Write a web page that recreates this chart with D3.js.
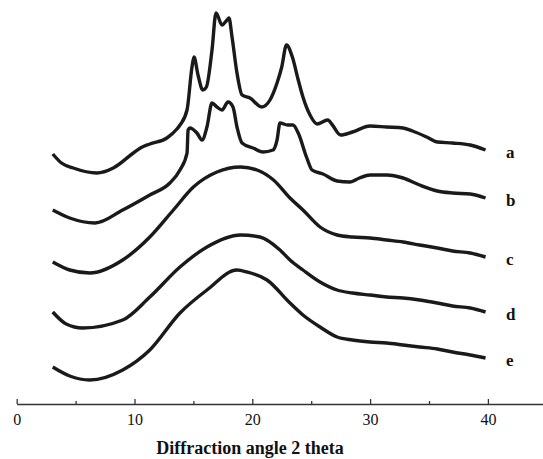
<!DOCTYPE html>
<html>
<head>
<meta charset="utf-8">
<script src="https://cdn.jsdelivr.net/npm/d3@7/dist/d3.min.js"></script>
<style>
    body { margin: 0; background: #fff; }
    .tick text { font-family: "Liberation Serif", "Times New Roman", serif; font-size: 16px; fill: #111; }
    .lbl { font-family: "Liberation Serif", "Times New Roman", serif; font-weight: bold; fill: #111; }
</style>
</head>
<body>
<script>
// 2 theta (deg), intensity (arbitrary units, curves already offset)
let curveA = [[3.06,250],[3.8,241],[4.8,236],[6.8,231],[8.2,236],[9.9,251],[10.5,256],[11.3,260],[12.75,266],
    [13.6,275],[13.86,279],[14.46,294],[14.88,337],[15.05,347],[15.39,329],[15.8,314],[16.1,317],[16.58,354],
    [16.92,391],[17.43,379],[17.85,384],[18.02,386],[18.28,367],[18.7,331],[19.13,309],[19.8,306],[20.8,297],
    [21.5,304],[22.1,321],[22.5,337],[22.9,359],[23.4,347],[23.9,324],[24.3,307],[24.9,289],[25.5,280],
    [26.4,284],[26.8,279],[27.5,269],[28.5,272],[30.0,278],[31.4,277],[32.8,276],[33.6,273],[34.8,267],
    [35.7,262],[37.0,261],[38.5,259],[39.8,254]];
let curveB = [[3.06,194],[4.5,186],[6.65,181],[9.0,194],[11.3,209],[13.0,221],[13.86,234],[14.46,251],[14.55,274],
    [14.7,276],[15.3,271],[15.73,264],[16.15,277],[16.58,301],[17.0,297],[17.43,294],[17.94,302],[18.36,297],
    [18.7,277],[19.13,261],[20.06,256],[20.9,252],[21.76,254],[22.1,264],[22.35,281],[23.0,279],[23.45,279],
    [23.9,271],[24.6,247],[25.07,234],[26.0,230],[27.2,223],[28.3,222],[29.1,226],[30.0,229],[31.4,229],
    [32.8,226],[34.2,219],[35.7,213],[37.0,211],[38.5,210],[39.8,206]];
let curveC = [[3.06,142],[4.5,134],[6.2,131],[9.0,144],[11.3,167],[13.3,194],[15.0,217],[17.0,232],[19.0,237],
    [20.4,234],[21.8,224],[23.2,206],[24.3,194],[25.75,177],[27.2,169],[28.5,167],[30.0,166],[31.4,164],
    [32.8,162],[34.2,159],[35.7,156],[37.0,153],[38.5,151],[39.8,147]];
let curveD = [[3.06,92],[4.2,80],[5.6,76],[9.0,84],[11.3,107],[13.86,137],[16.15,157],[19.0,169],[20.65,167],
    [22.35,154],[23.2,144],[24.3,134],[25.75,122],[27.2,114],[28.5,111],[30.0,109],[31.4,107],[32.8,106],
    [34.2,104],[35.7,101],[37.0,98],[38.5,96],[39.8,92]];
let curveE = [[3.06,37],[4.5,28],[6.2,24],[9.0,34],[11.3,54],[13.86,91],[16.15,114],[18.7,134],[19.55,132],
    [21.25,124],[23.2,101],[24.3,89],[25.75,77],[27.2,67],[28.5,64],[30.0,62],[31.4,61],[32.8,59],[34.2,57],
    [35.7,55],[37.0,52],[38.5,49],[39.8,46]];

let seriesNames = ['a', 'b', 'c', 'd', 'e'];
let seriesData = [curveA, curveB, curveC, curveD, curveE];
let majorTicks = [0, 10, 20, 30, 40];
let minorTicks = [5, 15, 25, 35];
let xTitle = 'Diffraction angle 2 theta';

this.width = 543;
this.height = 459;
let svg = d3.select('body').append('svg')
    .attr('width', this.width)
    .attr('height', this.height);

let x = d3.scaleLinear().domain([0, 45]).range([16.7, 546.8]);
let y = d3.scaleLinear().domain([0, 400]).range([404, 4]);

let line = d3.line()
    .x(d => x(d[0]))
    .y(d => y(d[1]))
    .curve(d3.curveMonotoneX);

svg.selectAll('.xrd')
    .data(seriesData)
    .enter()
    .append('path')
    .attr('class', 'xrd')
    .attr('d', line)
    .style('fill', 'none')
    .style('stroke', '#1a1a1a')
    .style('stroke-width', 3.4)
    .style('stroke-linejoin', 'round');

// curve labels
svg.selectAll('.lbl')
    .data(seriesData)
    .enter()
    .append('text')
    .attr('class', 'lbl')
    .attr('x', 506)
    .attr('y', d => y(d[d.length - 1][1]) + 8)
    .style('font-size', '17px')
    .text((d, i) => seriesNames[i]);

// x axis, ticks pointing up
let axis = svg.append('g').attr('transform', 'translate(0,404)');
axis.call(d3.axisBottom(x)
    .tickValues(majorTicks)
    .tickFormat(d3.format('d'))
    .tickSizeInner(-5)
    .tickSizeOuter(0)
    .tickPadding(10));
axis.append('g').call(d3.axisBottom(x)
    .tickValues(minorTicks)
    .tickFormat('')
    .tickSizeInner(-3)
    .tickSizeOuter(0))
    .select('.domain').remove();
axis.selectAll('path, line').style('stroke', '#333').style('stroke-width', 1.3);

svg.append('text')
    .attr('class', 'lbl')
    .attr('x', 250)
    .attr('y', 454)
    .attr('text-anchor', 'middle')
    .style('font-size', '18px')
    .text(xTitle);
</script>
</body>
</html>
